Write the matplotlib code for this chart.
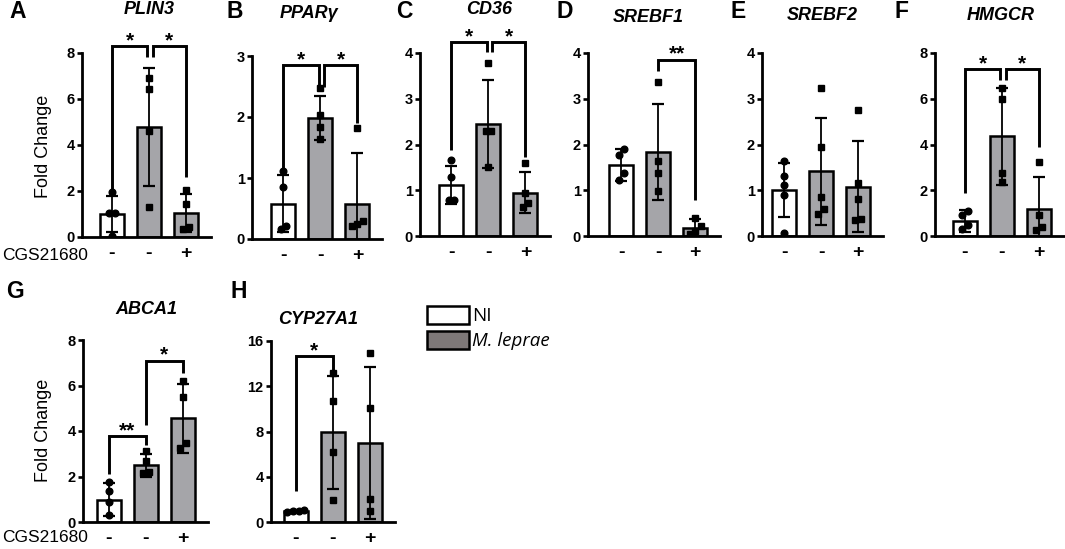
import matplotlib
matplotlib.use('Agg')
import matplotlib.pyplot as plt
from matplotlib.patches import Patch
import numpy as np

plt.rcParams['font.family'] = ['Liberation Sans', 'DejaVu Sans']

W, H = 1065, 549

# ---- data ----
genes = ['PLIN3', 'PPARγ', 'CD36', 'SREBF1', 'SREBF2', 'HMGCR', 'ABCA1', 'CYP27A1']
letters = ['A', 'B', 'C', 'D', 'E', 'F', 'G', 'H']
cgs_labels = ['-', '-', '+']
legend_labels = ['NI', 'M. leprae']

y_max = [8, 3, 4, 4, 4, 8, 8, 16]
y_step = [2, 1, 1, 1, 1, 2, 2, 4]

means = [
    [1.0, 4.78, 1.04],
    [0.58, 1.98, 0.58],
    [1.11, 2.44, 0.95],
    [1.56, 1.83, 0.18],
    [1.0, 1.42, 1.08],
    [0.67, 4.36, 1.18],
    [0.98, 2.49, 4.56],
    [0.94, 7.93, 6.96],
]
errs = [
    [0.8, 2.55, 0.83],
    [0.47, 0.36, 0.83],
    [0.42, 0.96, 0.44],
    [0.35, 1.05, 0.2],
    [0.59, 1.17, 0.99],
    [0.48, 2.13, 1.41],
    [0.73, 0.5, 1.52],
    [0.12, 5.0, 6.7],
]
points = [
    [[1.96, 1.06, 1.06, 0.03], [6.93, 6.42, 4.6, 1.3], [2.03, 1.45, 0.35, 0.43]],
    [[1.11, 0.85, 0.22, 0.16], [2.48, 2.03, 1.83, 1.64], [1.82, 0.30, 0.22, 0.25]],
    [[1.67, 1.28, 0.79, 0.79], [3.78, 2.29, 2.29, 1.51], [1.60, 0.95, 0.64, 0.73]],
    [[1.91, 1.77, 1.37, 1.22], [3.37, 1.64, 1.37, 0.99], [0.40, 0.22, 0.12, 0.05]],
    [[1.64, 1.31, 1.11, 0.89, 0.06], [3.24, 1.95, 0.86, 0.48, 0.58], [2.75, 1.16, 0.80, 0.35, 0.38]],
    [[1.1, 0.9, 0.5, 0.3], [6.49, 6.0, 2.76, 2.37], [3.24, 0.92, 0.41, 0.26]],
    [[1.74, 1.35, 0.86, 0.32], [3.10, 2.66, 2.15, 2.18], [6.21, 5.51, 3.49, 3.25]],
    [[1.05, 1.0, 0.95, 0.9], [13.18, 10.72, 6.17, 1.97], [14.97, 10.04, 2.03, 1.0]],
]
# (bar i, bar j, bracket top, left leg end, right leg end, label)
brackets = [
    [(0, 1, 8.29, 2.1, 7.84, '*'), (1, 2, 8.29, 7.84, 2.6, '*')],
    [(0, 1, 2.85, 1.17, 2.5, '*'), (1, 2, 2.85, 2.5, 1.9, '*')],
    [(0, 1, 4.24, 1.89, 4.02, '*'), (1, 2, 4.24, 4.02, 1.73, '*')],
    [(1, 2, 3.85, 3.6, 0.79, '**')],
    [],
    [(0, 1, 7.29, 1.86, 6.8, '*'), (1, 2, 7.29, 6.8, 3.9, '*')],
    [(0, 1, 3.76, 2.12, 3.39, '**'), (1, 2, 7.09, 4.27, 6.56, '*')],
    [(0, 1, 14.65, 2.7, 13.48, '*')],
]

# ---- layout (pixels) ----
px_per_bar = 37
x_right = 2.67
# left spine px, xlim left, top px, bottom px
axes_px = [
    (82, -0.81, 53, 237), (252, -0.85, 56, 239), (420, -0.85, 53, 236),
    (588, -0.90, 53, 236), (762, -0.60, 53, 236), (935, -0.81, 53, 236),
    (83, -0.70, 340, 522), (271, -0.67, 341, 522),
]
title_px = [(149, 10), (309, 14), (489, 10), (648, 17), (822, 15), (1001, 15), (146, 310), (318, 319)]
letter_px = [(9, 12), (226, 12), (396, 11), (557, 11), (731, 11), (894, 11), (6, 292), (231, 292)]

bar_colors = ['white', '#a5a5a9', '#a5a5a9']
legend_colors = ['white', '#7e7878']
markers = ['o', 's', 's']


def spread(vals, unit_px, gap_px=7.0, step=0.15):
    vals = np.asarray(vals, dtype=float)
    order = np.argsort(vals)
    offs = np.zeros(len(vals))
    clusters, cur = [], [order[0]]
    for a, b in zip(order[:-1], order[1:]):
        if (vals[b] - vals[a]) * unit_px < gap_px:
            cur.append(b)
        else:
            clusters.append(cur)
            cur = [b]
    clusters.append(cur)
    for c in clusters:
        n = len(c)
        for k, idx in enumerate(c):
            offs[idx] = (k - (n - 1) / 2) * step
    return offs


fig = plt.figure(figsize=(W / 100, H / 100), dpi=100)

for p in range(8):
    left, xmin, top, bottom = axes_px[p]
    width = (x_right - xmin) * px_per_bar
    ax = fig.add_axes([left / W, 1 - bottom / H, width / W, (bottom - top) / H])
    x = np.arange(3)
    ax.bar(x, means[p], width=0.65, color=bar_colors, edgecolor='k', linewidth=1.8, zorder=2)
    ax.errorbar(x, means[p], yerr=errs[p], fmt='none', ecolor='k', elinewidth=1.3,
                capsize=4.5, capthick=1.6, zorder=3)
    unit_px = (bottom - top) / y_max[p]
    for g in range(3):
        offs = spread(points[p][g], unit_px)
        ax.plot(g + offs, points[p][g], ls='none', marker=markers[g], ms=4.8,
                color='k', zorder=4)

    for (i, j, top_y, lb, rb, lab) in brackets[p]:
        xi, xj = float(i), float(j)
        for (i2, j2, t2, _, _, _) in brackets[p]:
            if t2 == top_y and (i2, j2) != (i, j):
                if j == i2:
                    xj -= 0.04
                if i == j2:
                    xi += 0.1
        ax.plot([xi, xi, xj, xj], [lb, top_y, top_y, rb], color='k', lw=2.1,
                clip_on=False, solid_joinstyle='miter', solid_capstyle='butt', zorder=5)
        ax.annotate(lab, xy=((xi + xj) / 2, top_y), xytext=(0, 0), textcoords='offset points',
                    ha='center', va='baseline', fontsize=15, fontweight='bold',
                    annotation_clip=False)

    ax.set_xlim(xmin, x_right)
    ax.set_ylim(0, y_max[p])
    ax.set_yticks(np.arange(0, y_max[p] + 0.1, y_step[p]))
    ax.set_xticks(x)
    ax.set_xticklabels(cgs_labels, fontsize=14, fontweight='bold')
    ax.tick_params(axis='x', length=0, pad=6)
    ax.tick_params(axis='y', length=3.8, width=1.9, pad=1.5, labelsize=10.5)
    for t in ax.get_yticklabels():
        t.set_fontweight('bold')
    for s in ['top', 'right']:
        ax.spines[s].set_visible(False)
    for s in ['left', 'bottom']:
        ax.spines[s].set_linewidth(2.0)
    ax.patch.set_visible(False)

    tx, ty = title_px[p]
    fig.text(tx / W, 1 - ty / H, genes[p], ha='center', va='center', fontsize=13,
             fontweight='bold', fontstyle='italic')
    lx, ly = letter_px[p]
    fig.text(lx / W, 1 - ly / H, letters[p], ha='left', va='center', fontsize=16.5,
             fontweight='bold')

fig.text(44 / W, 1 - 146 / H, 'Fold Change', rotation=90, ha='center', va='center', fontsize=13)
fig.text(44 / W, 1 - 430 / H, 'Fold Change', rotation=90, ha='center', va='center', fontsize=13)
fig.text(2 / W, 1 - 255 / H, 'CGS21680', ha='left', va='center', fontsize=12.5)
fig.text(2 / W, 1 - 538 / H, 'CGS21680', ha='left', va='center', fontsize=12.5)

handles = [Patch(facecolor=c, edgecolor='k', linewidth=1.8) for c in legend_colors]
leg = fig.legend(handles, legend_labels, loc='upper left', bbox_to_anchor=(427 / W, 1 - 306 / H),
                 frameon=False, borderpad=0, borderaxespad=0, handlelength=2.24,
                 handleheight=1.12, labelspacing=0.27, handletextpad=0.16,
                 prop={'family': ['Open Sans', 'DejaVu Sans'], 'size': 13.5})
leg.get_texts()[1].set_fontstyle('italic')

fig.savefig('out.png', dpi=100)
